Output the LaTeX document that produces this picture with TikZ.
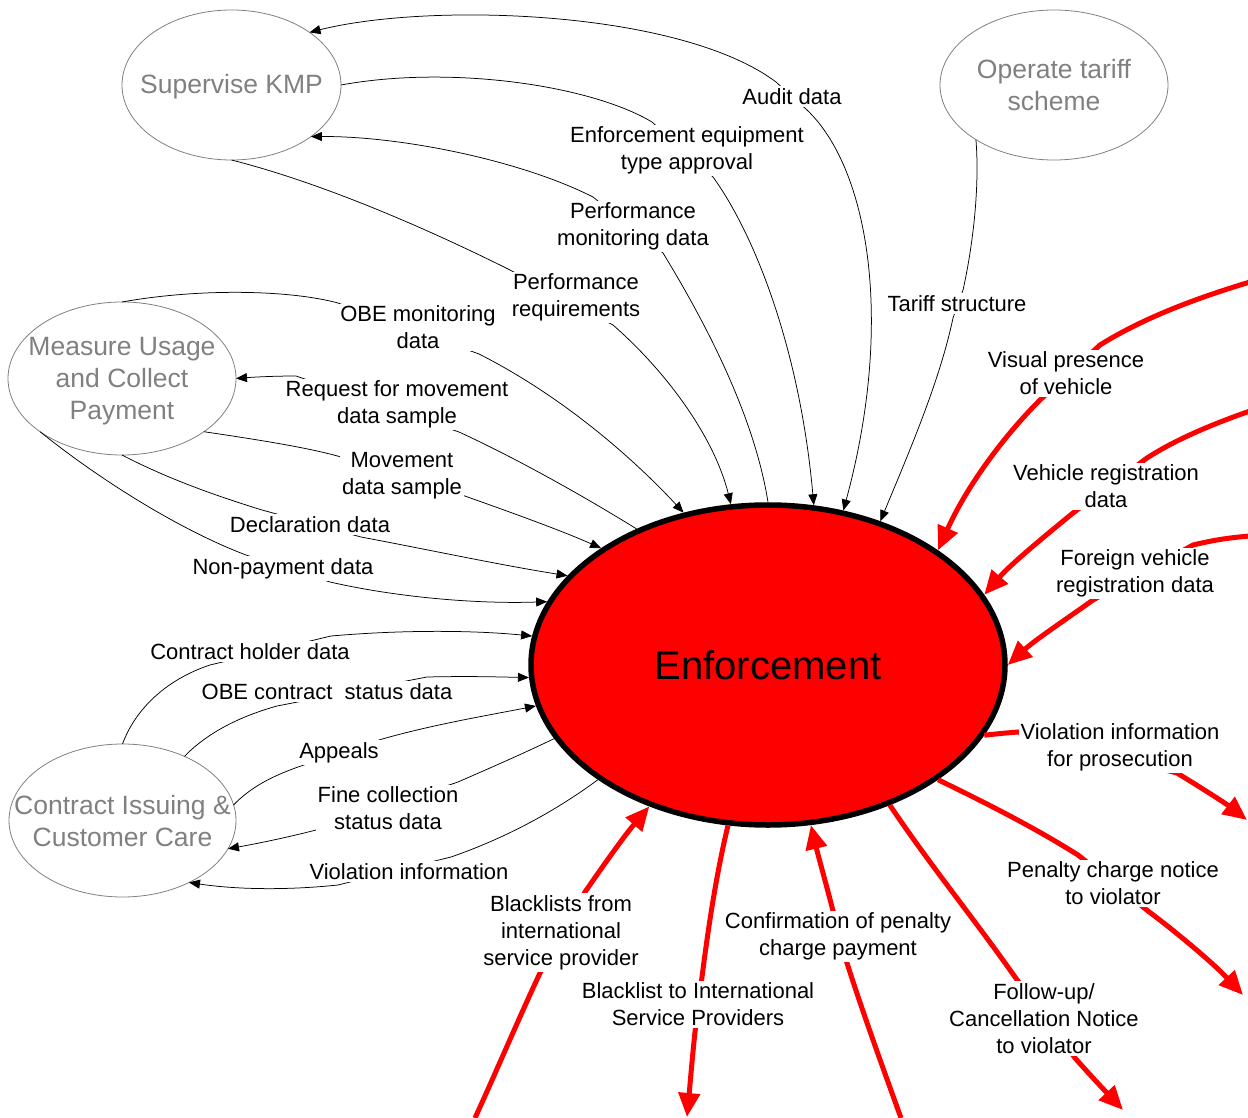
\documentclass[tikz,border=0pt]{standalone}
\usepackage{fontspec}
\setmainfont{Liberation Sans}
\usetikzlibrary{arrows.meta,shapes.geometric}
\definecolor{ellgray}{RGB}{128,128,128}
\definecolor{flowred}{RGB}{255,0,0}
\begin{document}
\begin{tikzpicture}[x=1pt,y=-1pt,
  extent/.style={draw=ellgray,line width=0.8pt,ellipse,inner sep=0pt,outer sep=0pt},
  exttext/.style={text=ellgray,font=\fontsize{26.5}{32}\selectfont,align=center,inner sep=0pt},
  lbl/.style={fill=white,inner sep=2pt,yshift=-1.5pt,font=\fontsize{22}{27}\selectfont,align=center},
  flow/.style={draw=black,line width=0.75pt},
  tipb/.style={-{Triangle[length=11pt,width=9pt]}},
  tipbb/.style={{Triangle[length=11pt,width=9pt]}-{Triangle[length=11pt,width=9pt]}},
  rflow/.style={draw=flowred,line width=5pt,-{Triangle[length=24pt,width=21pt]}},
]
\useasboundingbox (0,0) rectangle (1248,1118);

% central process
\node[draw=black,line width=5.5pt,fill=flowred,ellipse,minimum width=474pt,minimum height=320pt,
      inner sep=0pt,font=\fontsize{40}{48}\selectfont] (enf) at (768,665) {Enforcement};

% external processes
\node[extent,minimum width=219pt,minimum height=150pt] (sup) at (231.5,85) {};
\node[exttext] (supT) at (231.5,87) {Supervise KMP};
\node[extent,minimum width=228pt,minimum height=150pt] (op) at (1054,85) {};
\node[exttext] (opT) at (1054,85.5) {Operate tariff\\scheme};
\node[extent,minimum width=228pt,minimum height=153pt] (meas) at (122,378.5) {};
\node[exttext] (measT) at (122,381.5) {Measure Usage\\and Collect\\Payment};
\node[extent,minimum width=227pt,minimum height=153pt] (con) at (122.5,820.5) {};
\node[exttext] (conT) at (122.5,821) {Contract Issuing \&\\ Customer Care};

% free ends of external red flows
\coordinate (vpS) at (1250,282);
\coordinate (vrS) at (1250,411);
\coordinate (frS) at (1250,536);
\coordinate (vipE) at (1247,820);
\coordinate (pcE) at (1243,995);
\coordinate (fuE) at (1123,1110);
\coordinate (cfS) at (901,1118);
\coordinate (blE) at (687,1117);
\coordinate (bfS) at (475,1118);

% black flows
\draw[flow,tipbb] (sup.34.5) .. controls (430,2) and (680,10) .. (776,82) -- (807,110) .. controls (868,168) and (895,320) .. (enf.64.5);
\draw[flow,tipb] (sup.0) .. controls (450,65) and (590,85) .. (652,122) -- (713,177) .. controls (755,235) and (800,350) .. (enf.74.6);
\draw[flow,tipb] (enf.90) .. controls (755,420) and (710,330) .. (663,253) -- (593,197) .. controls (520,160) and (400,136) .. (sup.-33.4);
\draw[flow,tipb] (sup.-90) .. controls (330,185) and (440,235) .. (510,270) -- (613,325) .. controls (670,375) and (715,440) .. (enf.103.4);
\draw[flow,tipb] (meas.90) .. controls (200,288) and (290,290) .. (338,303) -- (479,354) .. controls (560,395) and (630,455) .. (enf.119.1);
\draw[flow,tipb] (op.-145.2) .. controls (980,190) and (972,250) .. (963,290) -- (953,318) .. controls (940,380) and (910,450) .. (enf.52.7);
\draw[flow,tipb] (enf.134.4) .. controls (590,500) and (520,460) .. (459,432) -- (296,376) .. controls (275,376) and (255,377) .. (meas.0);
\draw[flow,tipb] (meas.-33.9) .. controls (260,440) and (310,448) .. (341,457) -- (462,495) .. controls (510,512) and (560,530) .. (enf.145.9);
\draw[flow,tipb] (meas.-90) .. controls (170,480) and (220,497) .. (262,510) -- (361,537) .. controls (430,550) and (500,565) .. (enf.156.6);
\draw[flow,tipb] (meas.-147.9) .. controls (100,480) and (180,530) .. (246,555) -- (330,582) .. controls (400,598) and (480,604) .. (enf.164);
\draw[flow,tipb] (con.90) .. controls (135,710) and (165,680) .. (210,665) -- (331,636) .. controls (400,630) and (470,630) .. (enf.173.3);
\draw[flow,tipb] (con.46.8) .. controls (210,730) and (245,715) .. (277,706) -- (427,677) .. controls (470,676) and (500,677) .. (enf.183.4);
\draw[flow,tipb] (con.8) .. controls (250,788) and (270,777) .. (298,767) -- (379,740) .. controls (430,725) and (490,715) .. (enf.190.8);
\draw[flow,tipb] (enf.199.5) .. controls (520,755) and (490,768) .. (458,782) -- (316,830) .. controls (285,838) and (255,844) .. (con.-15.3);
\draw[flow,tipb] (enf.214.4) .. controls (550,815) and (500,840) .. (451,857) -- (338,885) .. controls (290,890) and (240,890) .. (con.-43.3);

% red flows
\draw[rflow] (vpS) .. controls (1190,300) and (1140,320) .. (1100,345) -- (1040,400) .. controls (1000,440) and (965,490) .. (enf.34.7);
\draw[rflow] (vrS) .. controls (1210,425) and (1175,440) .. (1147,458) -- (1073,513) .. controls (1040,540) and (1010,565) .. (enf.18.4);
\draw[rflow] (frS) .. controls (1225,538) and (1210,541) .. (1193,545) -- (1093,600) .. controls (1065,620) and (1035,640) .. (enf.0);
\draw[rflow] (enf.-18) .. controls (995,734) and (1005,733) .. (1018,732) -- (1177,773) .. controls (1200,787) and (1225,803) .. (vipE);
\draw[rflow] (enf.-34.1) .. controls (990,805) and (1035,828) .. (1078,855) -- (1148,911) .. controls (1180,935) and (1215,965) .. (pcE);
\draw[rflow] (enf.-49.8) .. controls (930,865) and (975,920) .. (1015,977) -- (1075,1058) .. controls (1090,1075) and (1107,1093) .. (fuE);
\draw[rflow] (cfS) .. controls (880,1060) and (862,1010) .. (847,963) -- (832,907) .. controls (825,880) and (818,855) .. (enf.-75.5);
\draw[rflow] (enf.-104.5) .. controls (716,875) and (708,930) .. (702,977) -- (695,1032) .. controls (692,1060) and (690,1085) .. (blE);
\draw[rflow] (bfS) .. controls (497,1070) and (518,1020) .. (540,973) -- (585,892) .. controls (605,863) and (625,835) .. (enf.-130.9);

% labels
\node[lbl] (lAudit) at (792,95) {Audit data};
\node[lbl] (lEEA) at (687,149) {Enforcement equipment\\type approval};
\node[lbl] (lPMD) at (633,225) {Performance\\monitoring data};
\node[lbl] (lPR) at (576,296) {Performance\\requirements};
\node[lbl] (lOBEm) at (418,326) {OBE monitoring\\data};
\node[lbl] (lTariff) at (957,302) {Tariff structure};
\node[lbl] (lReq) at (397,403) {Request for movement\\data sample};
\node[lbl] (lMov) at (402,474) {Movement\\data sample};
\node[lbl] (lDecl) at (310,523) {Declaration data};
\node[lbl] (lNon) at (283,567) {Non-payment data};
\node[lbl] (lCHD) at (250,650) {Contract holder data};
\node[lbl] (lOBEc) at (327,690) {OBE contract\ \ status data};
\node[lbl] (lApp) at (339,751) {Appeals};
\node[lbl] (lFine) at (388,807) {Fine collection\\status data};
\node[lbl] (lViol) at (409,870) {Violation information};
\node[lbl] (lVis) at (1066,372) {Visual presence\\of vehicle};
\node[lbl] (lVreg) at (1106,485) {Vehicle registration\\data};
\node[lbl] (lFor) at (1135,572) {Foreign vehicle\\registration data};
\node[lbl] (lVip) at (1120,746) {Violation information\\for prosecution};
\node[lbl] (lPen) at (1113,882) {Penalty charge notice\\to violator};
\node[lbl] (lFol) at (1044,1017) {Follow-up/\\Cancellation Notice\\to violator};
\node[lbl] (lConf) at (838,935) {Confirmation of penalty\\charge payment};
\node[lbl] (lBlTo) at (698,1003) {Blacklist to International\\Service Providers};
\node[lbl] (lBlFr) at (561,931) {Blacklists from\\international\\service provider};
\end{tikzpicture}
\end{document}
